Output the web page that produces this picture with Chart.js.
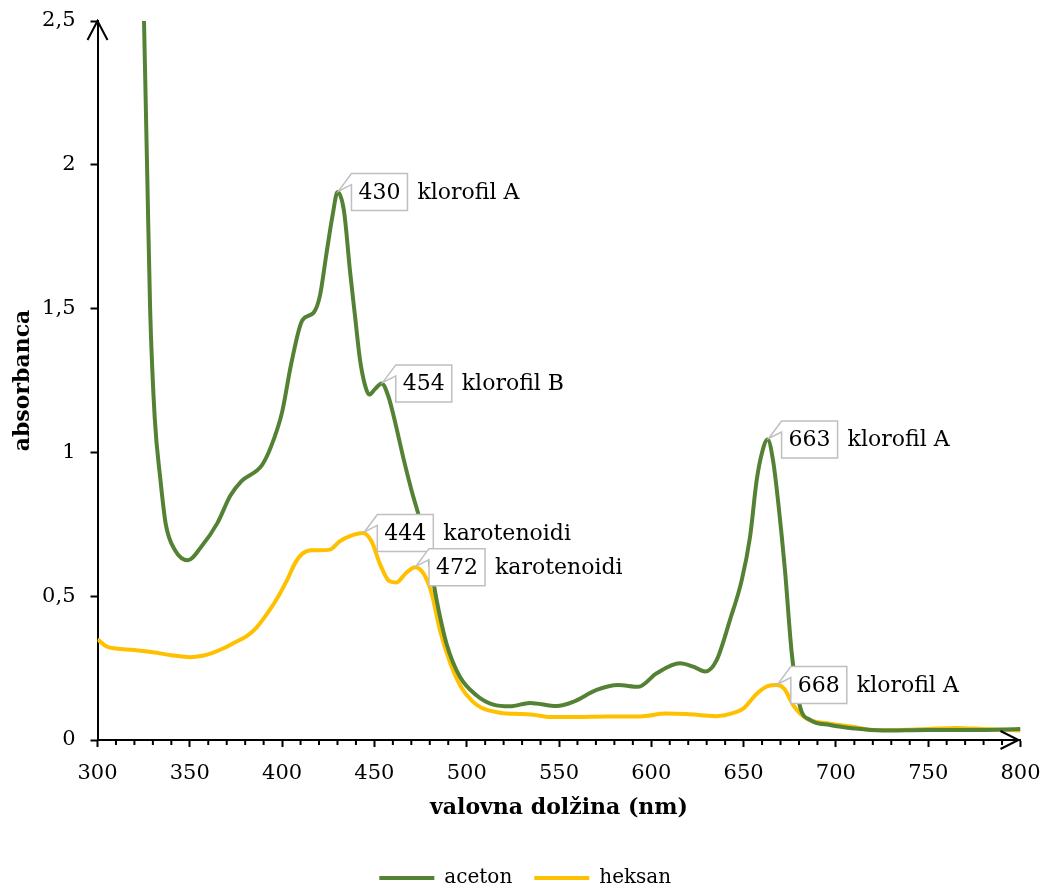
<!DOCTYPE html>
<html>
<head>
<meta charset="utf-8">
<script src="https://cdn.jsdelivr.net/npm/chart.js@4.4.1/dist/chart.umd.min.js"></script>
<style>
html,body{margin:0;padding:0;background:#fff;}
#wrap{width:1046px;height:890px;position:relative;}
</style>
</head>
<body>
<div id="wrap"><canvas id="c" width="1046" height="890"></canvas></div>
<script>
// ---- data ----
const acetonNm = [325, 327, 328.5, 331, 334, 337, 342, 349, 356, 365, 372, 378, 389, 394, 400, 405, 411, 417, 420.5, 424, 427.5, 430, 433.5, 436.8, 439.5, 442.2, 444.9, 447.2, 450.3, 454, 457.5, 461.2, 465.7, 470.2, 474.7, 479.2, 483.8, 489.2, 496.4, 505.4, 514.4, 523.5, 534.3, 548.7, 557.8, 570.4, 582.1, 593, 602.9, 615.5, 622.7, 629.1, 635.4, 642.6, 649, 653.5, 657.1, 660, 663, 666, 668.8, 672.4, 676.1, 680.6, 686, 696.8, 710, 725, 750, 775, 800];
const acetonA  = [2.56, 1.95, 1.50, 1.12, 0.91, 0.75, 0.66, 0.625, 0.67, 0.755, 0.85, 0.90, 0.955, 1.02, 1.14, 1.31, 1.46, 1.485, 1.545, 1.69, 1.83, 1.905, 1.84, 1.63, 1.474, 1.322, 1.234, 1.201, 1.22, 1.24, 1.196, 1.106, 0.98, 0.866, 0.765, 0.65, 0.484, 0.332, 0.219, 0.155, 0.123, 0.117, 0.129, 0.118, 0.133, 0.174, 0.191, 0.185, 0.232, 0.267, 0.255, 0.238, 0.278, 0.417, 0.556, 0.707, 0.904, 1.0, 1.045, 0.97, 0.823, 0.591, 0.301, 0.116, 0.07, 0.052, 0.04, 0.033, 0.035, 0.035, 0.038];

const heksanNm = [300, 305, 310, 320, 330, 340, 350, 357, 362, 368, 374, 381, 386, 392, 398, 403, 407, 411, 416, 421, 426, 431, 437, 444, 448.5, 453, 458, 462, 467, 472, 476.5, 481, 485.5, 491, 497, 503, 508, 518, 530, 536, 545, 560, 575, 594, 608, 619, 635, 645, 650, 657, 663, 668, 672, 677, 684, 697, 710, 720, 735, 750, 765, 780, 800];
const heksanA  = [0.35, 0.325, 0.318, 0.313, 0.305, 0.295, 0.288, 0.293, 0.302, 0.318, 0.338, 0.362, 0.39, 0.44, 0.5, 0.56, 0.615, 0.648, 0.66, 0.66, 0.662, 0.69, 0.71, 0.72, 0.69, 0.612, 0.553, 0.548, 0.58, 0.601, 0.58, 0.51, 0.382, 0.269, 0.183, 0.135, 0.112, 0.095, 0.09, 0.088, 0.08, 0.08, 0.082, 0.082, 0.092, 0.09, 0.083, 0.095, 0.11, 0.16, 0.187, 0.191, 0.178, 0.12, 0.075, 0.057, 0.045, 0.035, 0.035, 0.038, 0.042, 0.038, 0.033];

const seriesNames = ['aceton', 'heksan'];
const seriesColors = ['#548235', '#FFC000'];

const acetonPeakNm = [430, 454, 663];
const acetonPeakName = ['klorofil A', 'klorofil B', 'klorofil A'];
const heksanPeakNm = [444, 472, 668];
const heksanPeakName = ['karotenoidi', 'karotenoidi', 'klorofil A'];

const xTitle = 'valovna dolžina (nm)';
const yTitle = 'absorbanca';

// ---- rendering ----
const FONT = "'DejaVu Serif', serif";
const toPts = (xs, ys) => xs.map((x, i) => ({x: x, y: ys[i]}));

const axisDecor = {
  id: 'axisDecor',
  afterLayout(chart) {
    if (chart.legend) { chart.legend.left += 15; chart.legend.right += 15; }
  },
  afterDraw(chart) {
    const ctx = chart.ctx;
    const xs = chart.scales.x, ys = chart.scales.y;
    const y0 = ys.getPixelForValue(0);
    ctx.save();
    ctx.strokeStyle = '#000';
    ctx.lineWidth = 2;
    for (let v = xs.min; v <= xs.max; v += 10) {
      if (v % 50 === 0) continue;
      const px = xs.getPixelForValue(v);
      ctx.beginPath();
      ctx.moveTo(px, y0);
      ctx.lineTo(px, y0 + 5);
      ctx.stroke();
    }
    const ax = xs.getPixelForValue(xs.min);
    const ay = ys.getPixelForValue(ys.max);
    ctx.beginPath();
    ctx.moveTo(ax - 10, ay + 19);
    ctx.lineTo(ax, ay);
    ctx.lineTo(ax + 10, ay + 19);
    ctx.stroke();
    const bx = xs.getPixelForValue(xs.max) - 2;
    ctx.beginPath();
    ctx.moveTo(bx - 18, y0 - 9);
    ctx.lineTo(bx, y0);
    ctx.lineTo(bx - 18, y0 + 9);
    ctx.stroke();
    ctx.restore();
  }
};

const callouts = {
  id: 'callouts',
  afterDatasetsDraw(chart) {
    const ctx = chart.ctx;
    const groups = [[0, acetonPeakNm, acetonPeakName], [1, heksanPeakNm, heksanPeakName]];
    ctx.save();
    ctx.font = '22px ' + FONT;
    ctx.textBaseline = 'middle';
    groups.forEach(([di, nms, names]) => {
      const meta = chart.getDatasetMeta(di);
      const pts = chart.data.datasets[di].data;
      nms.forEach((nm, k) => {
        const idx = pts.findIndex(p => p.x === nm);
        if (idx < 0) return;
        const el = meta.data[idx];
        const px = el.x, py = el.y;
        const txt = String(nm);
        const tw = ctx.measureText(txt).width;
        const bw = tw + 14, bh = 37;
        const left = px + 14, top = py - bh / 2;
        ctx.beginPath();
        ctx.moveTo(left, top);
        ctx.lineTo(left + bw, top);
        ctx.lineTo(left + bw, top + bh);
        ctx.lineTo(left, top + bh);
        ctx.lineTo(left, top + 11);
        ctx.lineTo(px + 1, py - 1);
        ctx.closePath();
        ctx.fillStyle = '#fff';
        ctx.fill();
        ctx.strokeStyle = '#BFBFBF';
        ctx.lineWidth = 1.5;
        ctx.stroke();
        ctx.fillStyle = '#000';
        ctx.textAlign = 'center';
        ctx.fillText(txt, left + bw / 2, py + 1);
        ctx.textAlign = 'left';
        ctx.fillText(names[k], left + bw + 10, py + 1);
      });
    });
    ctx.restore();
  }
};

new Chart(document.getElementById('c'), {
  type: 'line',
  data: {
    datasets: [
      {label: seriesNames[0], data: toPts(acetonNm, acetonA), borderColor: seriesColors[0], backgroundColor: seriesColors[0],
       borderWidth: 4, pointRadius: 0, cubicInterpolationMode: 'monotone', fill: false},
      {label: seriesNames[1], data: toPts(heksanNm, heksanA), borderColor: seriesColors[1], backgroundColor: seriesColors[1],
       borderWidth: 4, pointRadius: 0, cubicInterpolationMode: 'monotone', fill: false}
    ]
  },
  options: {
    responsive: false,
    animation: false,
    events: [],
    layout: {autoPadding: false, padding: {top: 21, right: 25.5, left: 0, bottom: -8}},
    scales: {
      x: {
        type: 'linear', min: 300, max: 800,
        afterFit: s => { s.height = 106; s.paddingLeft = 0; s.paddingRight = 0; },
        ticks: {stepSize: 50, color: '#000', font: {family: FONT, size: 21}, padding: 14, maxRotation: 0},
        grid: {drawOnChartArea: false, drawTicks: true, tickLength: 7, tickWidth: 2, tickColor: '#000'},
        border: {display: true, color: '#000', width: 2},
        title: {display: true, text: xTitle, color: '#000', font: {family: FONT, size: 22, weight: 'bold'}, padding: {top: 0, bottom: 25}}
      },
      y: {
        min: 0, max: 2.5,
        afterFit: s => { s.width = 97.5; s.paddingTop = 0; s.paddingBottom = 0; },
        ticks: {stepSize: 0.5, color: '#000', font: {family: FONT, size: 21}, padding: 15,
                callback: v => String(v).replace('.', ',')},
        grid: {drawOnChartArea: false, drawTicks: true, tickLength: 7, tickWidth: 2, tickColor: '#000'},
        border: {display: true, color: '#000', width: 2},
        title: {display: true, text: yTitle, color: '#000', font: {family: FONT, size: 22, weight: 'bold'}, padding: {top: 10, bottom: 0}}
      }
    },
    plugins: {
      legend: {
        display: true, position: 'bottom',
        labels: {
          font: {family: FONT, size: 20}, color: '#000', boxWidth: 55, boxHeight: 4, padding: 22,
          generateLabels: chart => chart.data.datasets.map((d, i) => ({
            text: d.label, fillStyle: d.borderColor, strokeStyle: d.borderColor, lineWidth: 0,
            hidden: false, datasetIndex: i, fontColor: '#000'
          }))
        }
      },
      tooltip: {enabled: false}
    }
  },
  plugins: [axisDecor, callouts]
});
</script>
</body>
</html>
